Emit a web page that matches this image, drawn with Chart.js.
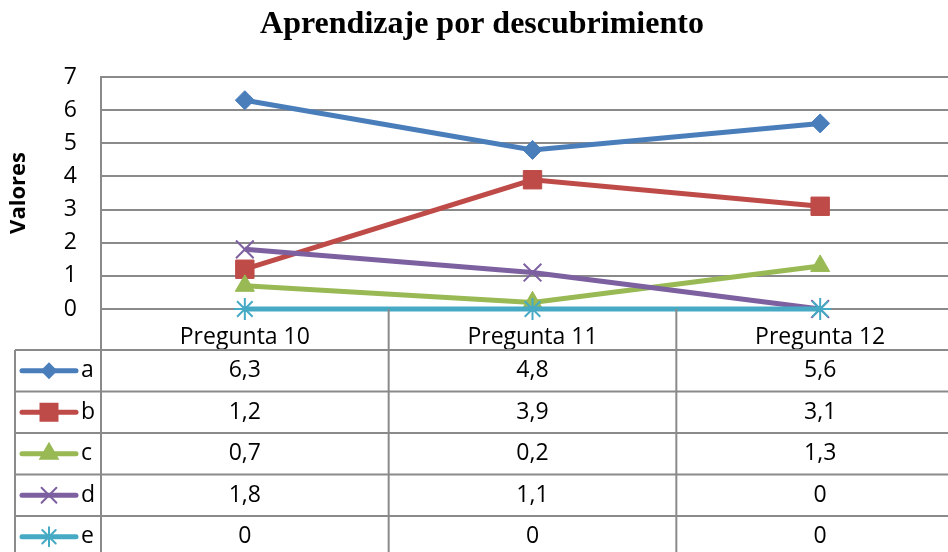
<!DOCTYPE html>
<html>
<head>
<meta charset="utf-8">
<title>Aprendizaje por descubrimiento</title>
<script src="https://cdn.jsdelivr.net/npm/chart.js@4.4.1/dist/chart.umd.min.js"></script>
<style>
  html, body { margin: 0; padding: 0; background: #fff; overflow: hidden; }
  #wrap { width: 948px; height: 552px; overflow: hidden; }
</style>
</head>
<body>
<div id="wrap"><canvas id="chart" width="966" height="552"></canvas></div>
<script>
// chart data
const categories = ['Pregunta 10', 'Pregunta 11', 'Pregunta 12'];
const seriesNames = ['a', 'b', 'c', 'd', 'e'];
const valuesA = [6.3, 4.8, 5.6];
const valuesB = [1.2, 3.9, 3.1];
const valuesC = [0.7, 0.2, 1.3];
const valuesD = [1.8, 1.1, 0];
const valuesE = [0, 0, 0];
const yTicks = [0, 1, 2, 3, 4, 5, 6, 7];

const seriesValues = [valuesA, valuesB, valuesC, valuesD, valuesE];

// look of each series (Excel 2007 palette)
const seriesStyles = [
    { color: '#4a7ebb', point: 'rectRot',  radius: 9.5, legendRadius: 7 },
    { color: '#be4b48', point: 'rect',     radius: 13,  legendRadius: 12 },
    { color: '#98b954', point: 'triangle', radius: 11,  legendRadius: 10 },
    { color: '#7d60a0', point: 'crossRot', radius: 12.5, legendRadius: 10.5 },
    { color: '#46aac5', point: 'star',     radius: 11,  legendRadius: 9.5 }
];

const gridColor = '#8a8a8a';
const fontFamily = "'Open Sans', 'Liberation Sans', sans-serif";
const rowHeight = 41.5;
const tableLeft = 15;

Chart.defaults.font.family = fontFamily;
Chart.defaults.color = '#000';

// Data table under the plot, with legend keys in the first column
const dataTable = {
    id: 'dataTable',
    afterDraw(chart) {
        const ctx = chart.ctx;
        const xs = chart.scales.x;
        const area = chart.chartArea;
        const top = xs.bottom;
        const bottom = chart.height;
        const right = chart.width;

        ctx.save();
        ctx.strokeStyle = gridColor;
        ctx.lineWidth = 2;

        // horizontal rules
        for (let r = 0; r <= seriesNames.length; r++) {
            const y = top + r * rowHeight;
            ctx.beginPath();
            ctx.moveTo(tableLeft, y);
            ctx.lineTo(right, y);
            ctx.stroke();
        }

        // vertical rules: table left, axis, and between categories
        const cols = [area.left];
        for (let i = 0; i < categories.length - 1; i++) {
            cols.push((xs.getPixelForValue(i) + xs.getPixelForValue(i + 1)) / 2);
        }
        cols.forEach(x => {
            ctx.beginPath();
            ctx.moveTo(x, area.bottom);
            ctx.lineTo(x, bottom);
            ctx.stroke();
        });
        ctx.beginPath();
        ctx.moveTo(tableLeft, top);
        ctx.lineTo(tableLeft, bottom);
        ctx.stroke();

        // cell values
        ctx.font = '23px ' + fontFamily;
        ctx.fillStyle = '#000';
        ctx.textBaseline = 'middle';
        seriesValues.forEach((vals, r) => {
            const y = top + (r + 0.5) * rowHeight;
            ctx.textAlign = 'center';
            vals.forEach((v, i) => {
                ctx.fillText(String(v).replace('.', ','), xs.getPixelForValue(i), y);
            });

            // legend key
            const st = seriesStyles[r];
            ctx.strokeStyle = st.color;
            ctx.fillStyle = st.color;
            ctx.lineWidth = 5;
            ctx.lineCap = 'round';
            ctx.beginPath();
            ctx.moveTo(22, y);
            ctx.lineTo(76, y);
            ctx.stroke();
            ctx.lineWidth = 2;
            Chart.helpers.drawPoint(ctx, {
                pointStyle: st.point, radius: st.legendRadius, rotation: 0, borderWidth: 1.5
            }, 49, y);

            ctx.fillStyle = '#000';
            ctx.textAlign = 'left';
            ctx.fillText(seriesNames[r], 81, y);
            ctx.strokeStyle = gridColor;
        });
        ctx.restore();
    }
};

const ctx = document.getElementById('chart').getContext('2d');

new Chart(ctx, {
    type: 'line',
    data: {
        labels: categories,
        datasets: seriesNames.map((name, i) => ({
            label: name,
            data: seriesValues[i],
            borderColor: seriesStyles[i].color,
            backgroundColor: seriesStyles[i].color,
            borderWidth: 5,
            pointStyle: seriesStyles[i].point,
            pointRadius: seriesStyles[i].radius,
            pointBorderWidth: (seriesStyles[i].point === 'crossRot' || seriesStyles[i].point === 'star') ? 2 : 1,
            pointBorderColor: seriesStyles[i].color,
            pointBackgroundColor: seriesStyles[i].color,
            tension: 0,
            fill: false,
            clip: false,
            order: seriesNames.length - i // e drawn on top
        }))
    },
    options: {
        responsive: false,
        animation: false,
        events: [],
        layout: { autoPadding: false, padding: { left: 0, right: 2, top: 0, bottom: 202 } },
        plugins: {
            legend: { display: false },
            tooltip: { enabled: false },
            title: {
                display: true,
                text: 'Aprendizaje por descubrimiento',
                color: '#000',
                font: { family: "'Liberation Serif', 'Times New Roman', serif", size: 32, weight: 'bold' },
                padding: { top: 6, bottom: 32.6 }
            }
        },
        scales: {
            x: {
                offset: true,
                grid: { display: false },
                border: { display: false },
                ticks: { font: { size: 23 }, color: '#000', padding: 7, maxRotation: 0 },
                afterFit(scale) { scale.height = 41; }
            },
            y: {
                min: yTicks[0],
                max: yTicks[yTicks.length - 1],
                grid: { color: gridColor, lineWidth: 2, drawTicks: false },
                border: { display: true, color: gridColor, width: 2 },
                ticks: { stepSize: 1, font: { size: 23 }, color: '#000', padding: 24 },
                title: {
                    display: true,
                    text: 'Valores',
                    color: '#000',
                    font: { size: 22, weight: 'bold' },
                    padding: { top: 6, bottom: 0 }
                },
                afterFit(scale) { scale.width = 101; }
            }
        }
    },
    plugins: [dataTable]
});
</script>
</body>
</html>
